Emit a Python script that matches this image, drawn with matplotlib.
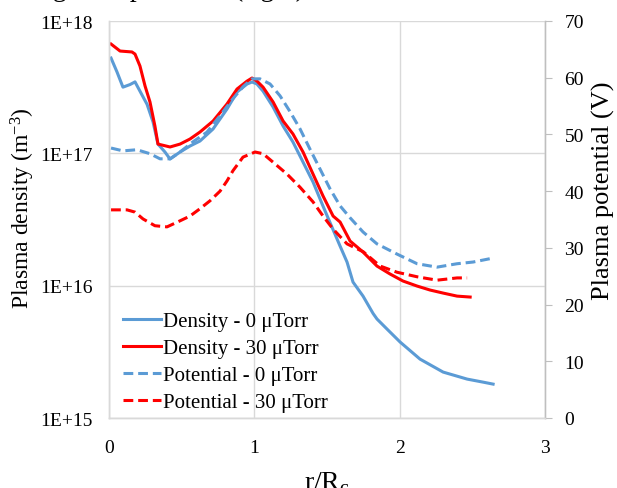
import matplotlib
matplotlib.use("Agg")
import matplotlib.pyplot as plt
from matplotlib.ticker import FixedLocator, FuncFormatter, NullLocator
import numpy as np

plt.rcParams['font.family'] = ['Liberation Serif', 'DejaVu Serif']
plt.rcParams['mathtext.fontset'] = 'custom'
plt.rcParams['mathtext.rm'] = 'Liberation Serif'
plt.rcParams['mathtext.it'] = 'Liberation Serif:italic'

# ---- data ----
dens0_x = [0.014, 0.055, 0.096, 0.145, 0.179, 0.213, 0.262, 0.303, 0.337, 0.385, 0.42,
           0.489, 0.557, 0.626, 0.716, 0.812, 0.881, 0.95, 0.984, 1.018, 1.06, 1.129,
           1.198, 1.266, 1.335, 1.404, 1.473, 1.59, 1.638, 1.679, 1.748, 1.817, 1.844,
           1.913, 2.003, 2.14, 2.299, 2.464, 2.574, 2.643]
dens0_log = [17.72, 17.615, 17.5, 17.52, 17.54, 17.47, 17.37, 17.237, 17.07, 17.01, 16.957,
             17.01, 17.055, 17.093, 17.184, 17.335, 17.463, 17.524, 17.539, 17.524, 17.47, 17.35,
             17.206, 17.085, 16.934, 16.783, 16.6, 16.299, 16.178, 16.027, 15.921, 15.79, 15.748,
             15.672, 15.574, 15.445, 15.347, 15.294, 15.271, 15.256]

dens30_x = [0.014, 0.076, 0.158, 0.179, 0.213, 0.248, 0.282, 0.316, 0.337, 0.42, 0.489,
            0.557, 0.626, 0.716, 0.812, 0.881, 0.95, 0.984, 1.018, 1.06, 1.129, 1.198,
            1.266, 1.335, 1.404, 1.473, 1.542, 1.59, 1.659, 1.748, 1.844, 1.934, 2.023,
            2.12, 2.209, 2.299, 2.395, 2.485]
dens30_log = [17.826, 17.773, 17.766, 17.75, 17.66, 17.509, 17.388, 17.206, 17.07, 17.048, 17.07,
              17.108, 17.161, 17.244, 17.373, 17.486, 17.546, 17.569, 17.546, 17.5, 17.388, 17.244,
              17.146, 17.01, 16.843, 16.677, 16.526, 16.481, 16.337, 16.254, 16.148, 16.088, 16.035,
              15.997, 15.967, 15.944, 15.921, 15.914]

pot0_x = [0.014, 0.096, 0.192, 0.282, 0.351, 0.42, 0.489, 0.578, 0.674, 0.764, 0.853,
          0.922, 0.984, 1.039, 1.108, 1.177, 1.246, 1.314, 1.383, 1.452, 1.521, 1.59,
          1.659, 1.748, 1.844, 1.982, 2.12, 2.257, 2.395, 2.505, 2.643]
pot0_v = [47.6, 47.1, 47.3, 46.6, 45.7, 45.7, 46.9, 48.7, 50.4, 53.3, 56.3,
          58.4, 59.8, 59.8, 58.9, 56.8, 54.0, 51.0, 47.4, 43.9, 40.4, 37.4,
          35.3, 32.8, 30.7, 28.9, 27.2, 26.6, 27.2, 27.5, 28.2]

pot30_x = [0.014, 0.124, 0.179, 0.234, 0.316, 0.399, 0.475, 0.557, 0.626, 0.695, 0.764,
           0.812, 0.853, 0.922, 1.005, 1.06, 1.129, 1.225, 1.314, 1.404, 1.473, 1.542,
           1.638, 1.75, 1.865, 1.982, 2.12, 2.257, 2.395, 2.464]
pot30_v = [36.7, 36.7, 36.3, 35.1, 33.9, 33.7, 34.6, 35.6, 36.9, 38.3, 40.0,
           41.8, 43.6, 46.0, 46.9, 46.6, 45.1, 43.0, 40.7, 38.1, 35.6, 33.3,
           30.7, 29.3, 26.8, 25.7, 24.9, 24.3, 24.7, 24.7]

x_ticks = [0, 1, 2, 3]
left_ticks = [1e15, 1e16, 1e17, 1e18]
right_ticks = [0, 10, 20, 30, 40, 50, 60, 70]
labels = ["Density - 0 \u03bcTorr", "Density - 30 \u03bcTorr",
          "Potential - 0 \u03bcTorr", "Potential - 30 \u03bcTorr"]

BLUE = "#5B9BD5"
RED = "#FF0000"
GRID = "#D9D9D9"

fig = plt.figure(figsize=(6.17, 4.89), dpi=100)
ax = fig.add_axes([109 / 617, 1 - 419 / 489, (545 - 109) / 617, (419 - 22) / 489])
ax2 = ax.twinx()

ax.set_yscale('log')
ax.set_ylim(1e15, 1e18)
ax.set_xlim(0, 3)
ax2.set_ylim(0, 70)

lw = 2.2
dash = (3.2, 1.6)
l1, = ax.plot(dens0_x, 10 ** np.array(dens0_log), color=BLUE, lw=lw, solid_joinstyle='round')
l2, = ax.plot(dens30_x, 10 ** np.array(dens30_log), color=RED, lw=lw, solid_joinstyle='round')
l3, = ax2.plot(pot0_x, pot0_v, color=BLUE, lw=lw, linestyle=(0, dash), dash_capstyle='butt')
l4, = ax2.plot(pot30_x, pot30_v, color=RED, lw=lw, linestyle=(0, dash), dash_capstyle='butt')

# grid
ax.yaxis.set_major_locator(FixedLocator(left_ticks))
ax.yaxis.set_minor_locator(NullLocator())
ax.yaxis.set_major_formatter(FuncFormatter(lambda v, p: "1E+%d" % int(round(np.log10(v)))))
ax.xaxis.set_major_locator(FixedLocator(x_ticks))
ax.grid(True, color=GRID, lw=1.0)
ax.set_axisbelow(True)

ax2.yaxis.set_major_locator(FixedLocator(right_ticks))

for a in (ax, ax2):
    a.spines['top'].set_visible(False)
    for s in ['left', 'bottom', 'right']:
        a.spines[s].set_color(GRID)
        a.spines[s].set_linewidth(1.0)
ax2.spines['right'].set_color("#BFBFBF")

ax.tick_params(axis='y', length=0, labelsize=14, pad=12)
ax.tick_params(axis='x', length=0, labelsize=14, pad=15)
ax2.tick_params(axis='y', length=5, color="#BFBFBF", labelsize=14, pad=9, direction='out')

ax.set_ylabel("Plasma density (m$^{-3}$)", fontsize=17)
ax.yaxis.set_label_coords(-0.165, 0.53)
ax2.set_ylabel("Plasma potential (V)", fontsize=19)
ax2.yaxis.set_label_coords(1.108, 0.575)
ax.set_xlabel("r/R$_\\mathrm{c}$", fontsize=20)
ax.xaxis.set_label_coords(0.5, -0.128)

ax2.legend([l1, l2, l3, l4], labels, loc='lower left', bbox_to_anchor=(0.032, 0.015),
           frameon=False, fontsize=15, handlelength=1.85, handletextpad=0.08,
           labelspacing=0.36, borderaxespad=0.0, borderpad=0.0)

fig.text(305 / 617, 1 + 4 / 489, "along with potential (right)", ha='right', va='baseline',
         fontsize=20)

fig.savefig("out.png", dpi=100)
